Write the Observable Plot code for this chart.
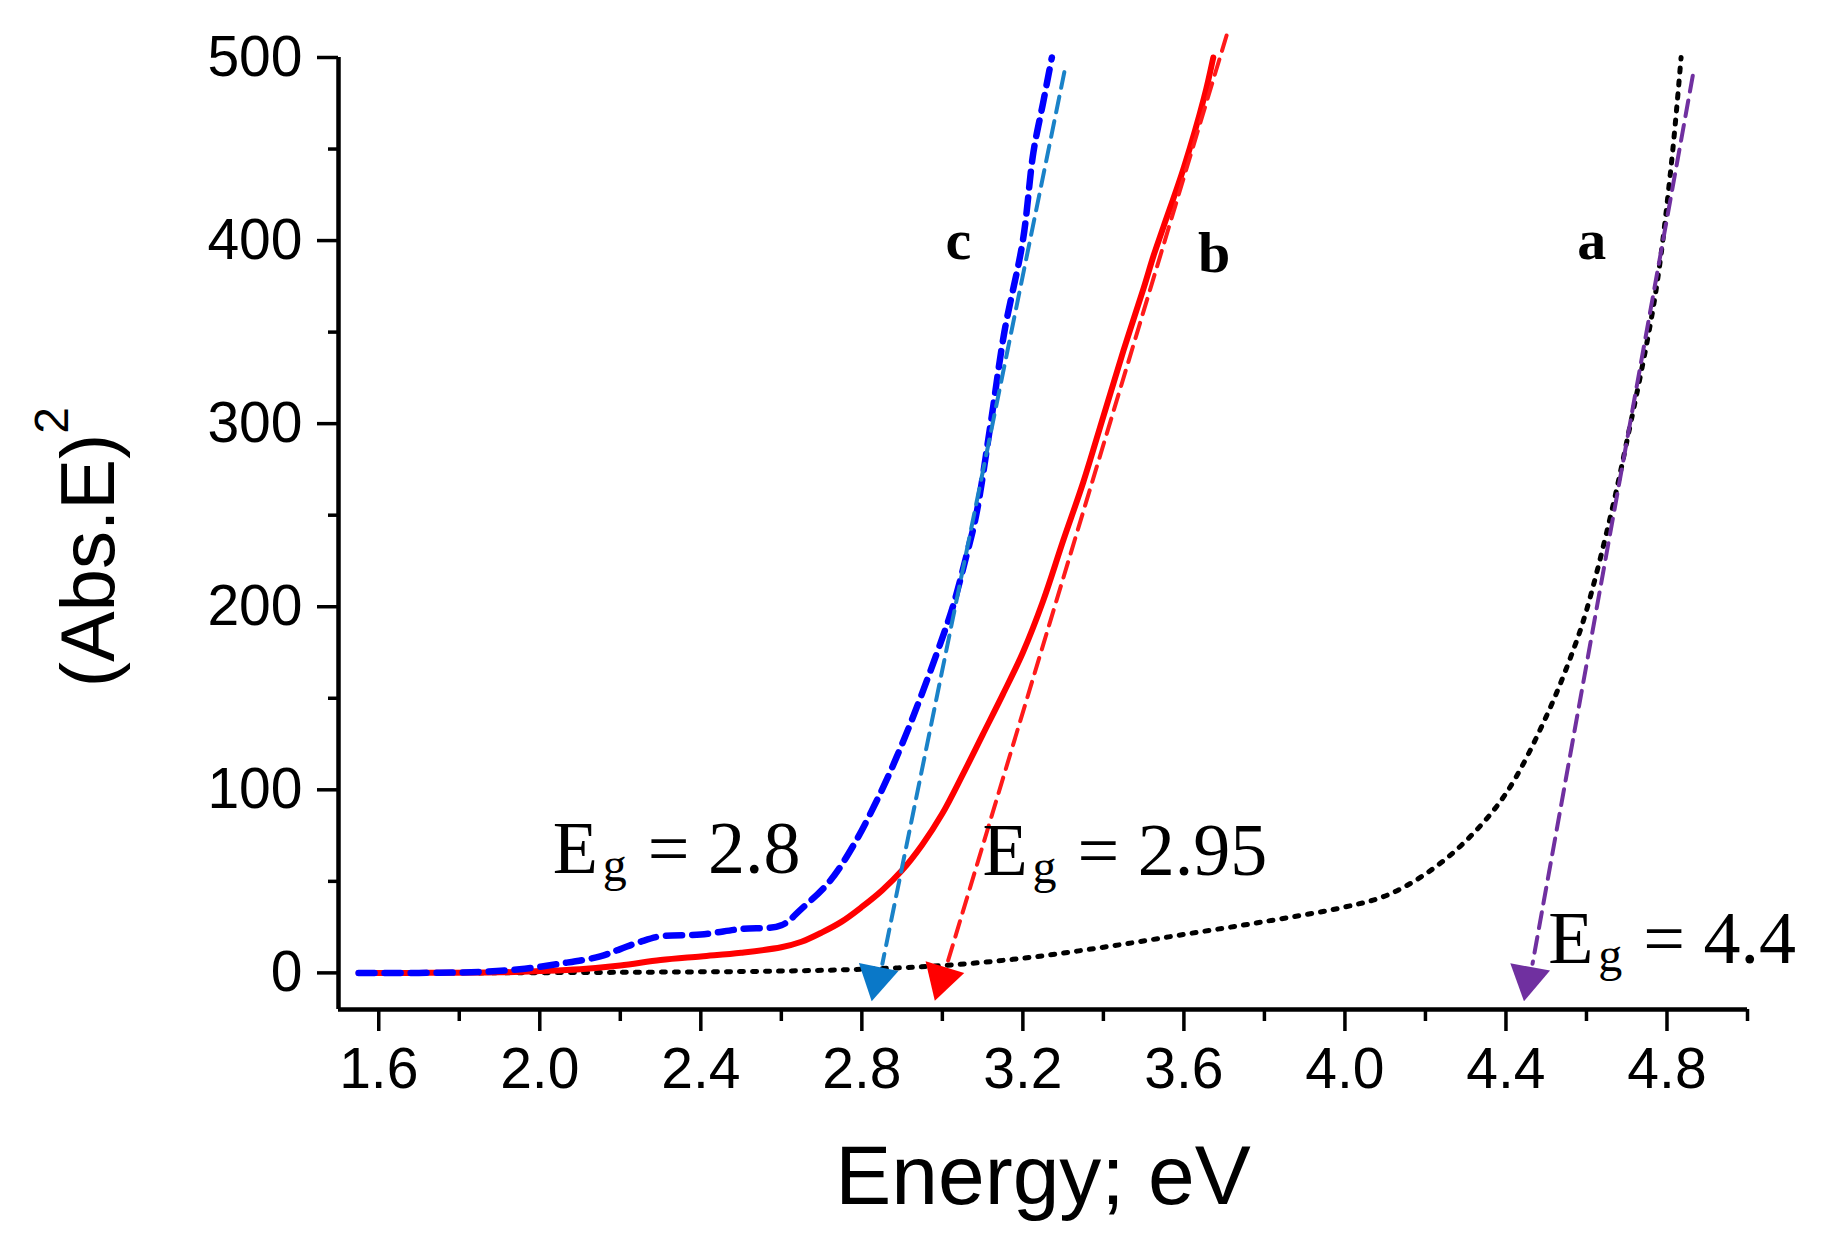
<!DOCTYPE html>
<html><head><meta charset="utf-8">
<script src="https://cdn.jsdelivr.net/npm/d3@7"></script>
<script src="https://cdn.jsdelivr.net/npm/@observablehq/plot@0.6"></script>
<style>body{margin:0;background:#fff} svg{display:block}</style>
</head><body><div id="chart"></div>
<script>
// Curve a (black dotted)
const energyA = [1.85, 2.2, 2.6, 2.8, 3.0, 3.2, 3.4, 3.6, 3.8, 4.0, 4.1, 4.2, 4.3, 4.4, 4.5, 4.57, 4.6, 4.655, 4.7, 4.77, 4.81, 4.835];
const absA    = [0,    0.3, 1,   2,   4,   8,   14,  21,  28,  36,  42,  54,  72,  98,  140, 178,  198, 245,   290, 369,  440,  500];
// Curve b (red solid)
const energyB = [1.55, 1.7, 1.9, 2.0, 2.1, 2.2, 2.3, 2.4, 2.5, 2.6, 2.65, 2.7, 2.75, 2.8, 2.85, 2.9, 2.95, 3.0, 3.05, 3.1, 3.15, 3.2, 3.25, 3.3, 3.35, 3.4, 3.45, 3.5, 3.525, 3.55, 3.6, 3.65, 3.673];
const absB    = [0,    0,   0.3, 1,   2,   4,   7,   9,   11,  14,  17,   22,  28,   36,  45,   56,  70,   87,  108,  130, 152,  175, 203,  236, 268,  304, 340,  374, 392,   408,  440, 478,  500];
// Curve c (blue dashed)
const energyC = [1.55, 1.7, 1.85, 1.95, 2.05, 2.15, 2.2, 2.25, 2.3, 2.4, 2.5, 2.6, 2.65, 2.72, 2.78, 2.85, 2.9, 2.945, 3.0, 3.026, 3.06, 3.084, 3.12, 3.154, 3.2, 3.226, 3.25, 3.272];
const absC    = [0,    0,   0.5,  2,    5,    9,    13,  17,   20,  21,  24,  26,  35,   50,   70,   100,  125, 150,   183, 200,   228,  250,   300,  350,   400, 448,   475,  500];

// Linear extrapolation (fit) lines: [top, bottom]
const fitEnergyA = [4.864, 4.466], fitAbsA = [490, 5];
const fitEnergyB = [3.706, 3.012], fitAbsB = [512, 5];
const fitEnergyC = [3.303, 2.851], fitAbsC = [492, 5];

// Arrow heads at the band gap
const arrowEnergy = [4.455, 2.998, 2.836];
const arrowAbs    = [-3, -3, -3];
const arrowColor  = ["#7030a0", "#ff0000", "#0a78c8"];
const arrowAngle  = [190.2, 196.8, 191.5];

// Labels
const curveLabels = ["a", "b", "c"];
const curveLabelE = [4.613, 3.675, 3.04];
const curveLabelY = [390, 383, 390];
const egValues = ["= 4.4", "= 2.95", "= 2.8"];
const egLabelE = [4.505, 3.10, 2.032];
const egLabelY = [5.5, 53.5, 54.6];

const xMajor = [1.6, 2.0, 2.4, 2.8, 3.2, 3.6, 4.0, 4.4, 4.8];
const xMinor = [1.8, 2.2, 2.6, 3.0, 3.4, 3.8, 4.2, 4.6, 5.0];
const yMajor = [0, 100, 200, 300, 400, 500];
const yMinor = [50, 150, 250, 350, 450];

const zipXY = (X, Y) => X.map((x, i) => ({x, y: Y[i]}));
const dataA = zipXY(energyA, absA), dataB = zipXY(energyB, absB), dataC = zipXY(energyC, absC);
const fitA = zipXY(fitEnergyA, fitAbsA), fitB = zipXY(fitEnergyB, fitAbsB), fitC = zipXY(fitEnergyC, fitAbsC);
const arrows = arrowEnergy.map((x, i) => ({x, y: arrowAbs[i], c: arrowColor[i], r: arrowAngle[i]}));
const cl = curveLabels.map((t, i) => ({t, x: curveLabelE[i], y: curveLabelY[i]}));
const eg = egValues.map((t, i) => ({t, x: egLabelE[i], y: egLabelY[i]}));

const serif = "Liberation Serif, Times New Roman, serif";
const sans = "Liberation Sans, Arial, sans-serif";

const chart = Plot.plot({
  width: 1822, height: 1239,
  marginLeft: 338, marginRight: 75, marginTop: 57, marginBottom: 230,
  x: {domain: [1.5, 5.0]},
  y: {domain: [-20, 500]},
  style: {fontFamily: sans, background: "white", color: "black", fontSize: "57px"},
  marks: [
    Plot.axisX({ticks: xMajor, tickSize: 22, tickPadding: 16, tickFormat: d3.format(".1f"), fontSize: 57, label: null, strokeWidth: 3.5}),
    Plot.axisX({ticks: xMinor, tickSize: 12, tickFormat: () => "", label: null, strokeWidth: 3.5}),
    Plot.axisY({ticks: yMajor, tickSize: 21, tickPadding: 15, tickFormat: d3.format("d"), fontSize: 57, label: null, strokeWidth: 3.5}),
    Plot.axisY({ticks: yMinor, tickSize: 10, tickFormat: () => "", label: null, strokeWidth: 3.5}),
    Plot.ruleX([1.5], {stroke: "black", strokeWidth: 4.5}),
    Plot.ruleY([-20], {stroke: "black", strokeWidth: 4.5}),

    Plot.line(dataA, {x: "x", y: "y", stroke: "black", strokeWidth: 5, strokeDasharray: "4,9", curve: "catmull-rom"}),
    Plot.line(dataB, {x: "x", y: "y", stroke: "#ff0000", strokeWidth: 6, curve: "catmull-rom"}),
    Plot.line(dataC, {x: "x", y: "y", stroke: "#0000ff", strokeWidth: 6.5, strokeDasharray: "16,10", curve: "catmull-rom"}),

    Plot.line(fitA, {x: "x", y: "y", stroke: "#7030a0", strokeWidth: 4, strokeDasharray: "16,9"}),
    Plot.line(fitB, {x: "x", y: "y", stroke: "#ff1a1a", strokeWidth: 4, strokeDasharray: "16,9"}),
    Plot.line(fitC, {x: "x", y: "y", stroke: "#1a82c8", strokeWidth: 4, strokeDasharray: "16,9"}),
    Plot.dot(arrows, {x: "x", y: "y", symbol: "triangle", r: 15, fill: "c", stroke: null, rotate: "r"}),

    Plot.text(cl, {x: "x", y: "y", text: "t", fontFamily: serif, fontWeight: "bold", fontSize: 58, textAnchor: "middle", lineAnchor: "bottom"}),
    Plot.text(eg, {x: "x", y: "y", text: () => "E", fontFamily: serif, fontSize: 74, textAnchor: "start", lineAnchor: "bottom"}),
    Plot.text(eg, {x: "x", y: "y", text: () => "g", fontFamily: serif, fontSize: 48, textAnchor: "start", lineAnchor: "bottom", dx: 50, dy: 8}),
    Plot.text(eg, {x: "x", y: "y", text: "t", fontFamily: serif, fontSize: 74, textAnchor: "start", lineAnchor: "bottom", dx: 95}),

    Plot.text(["Energy; eV"], {frameAnchor: "bottom", fontSize: 84, textAnchor: "middle", lineAnchor: "bottom", dy: 194}),
    Plot.text(["(Abs.E)"], {frameAnchor: "left", fontSize: 76, rotate: -90, textAnchor: "middle", lineAnchor: "bottom", dx: -225, dy: 27}),
    Plot.text(["2"], {frameAnchor: "left", fontSize: 48, rotate: -90, textAnchor: "middle", lineAnchor: "bottom", dx: -271, dy: -113})
  ]
});
document.getElementById("chart").append(chart);
</script>
</body></html>
